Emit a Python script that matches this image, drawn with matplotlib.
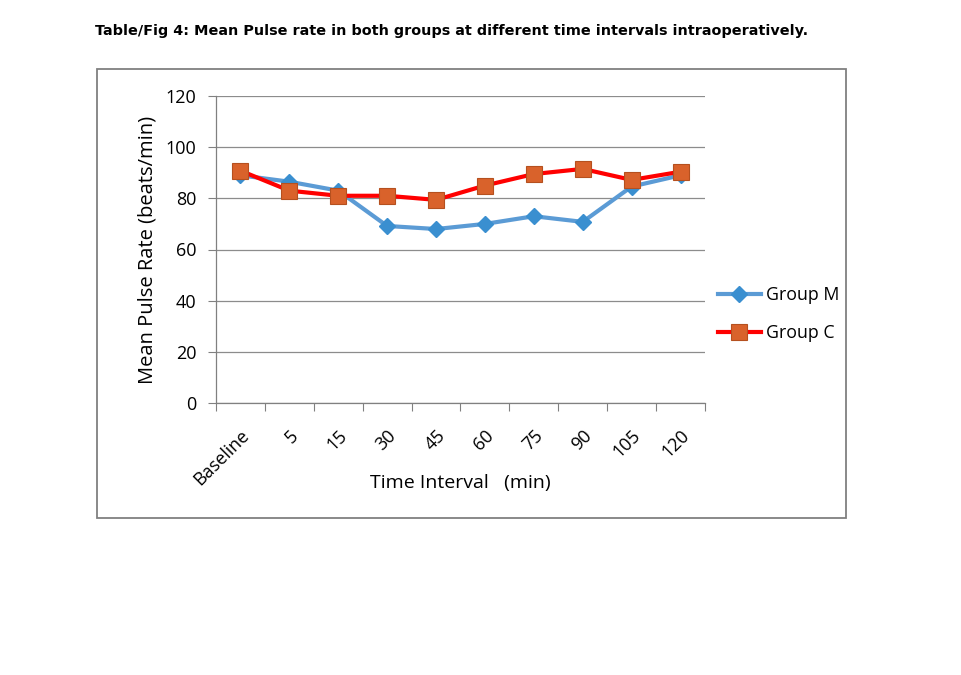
import matplotlib
matplotlib.use("Agg")
import matplotlib.pyplot as plt
from matplotlib.patches import Rectangle
from matplotlib.ticker import FixedLocator, NullFormatter

categories = ["Baseline", "5", "15", "30", "45", "60", "75", "90", "105", "120"]
group_m = [89, 86.5, 83, 69.2, 68, 70, 73, 70.8, 84.6, 89]
group_c = [90.8, 83, 81, 81, 79.4, 85, 89.5, 91.5, 87.2, 90.4]
y_ticks = [0, 20, 40, 60, 80, 100, 120]

W, H = 962, 675
fig = plt.figure(figsize=(W / 100, H / 100), dpi=100)
fig.patch.set_facecolor("white")

# outer chart box
fig.patches.append(Rectangle((97 / W, 1 - 518 / H), (846 - 97) / W, (518 - 69) / H,
                             transform=fig.transFigure, fill=False,
                             edgecolor="#808080", linewidth=1.3))

fig.text(95 / W, 1 - 31 / H,
         "Table/Fig 4: Mean Pulse rate in both groups at different time intervals intraoperatively.",
         fontsize=10.4, fontweight="heavy", family="DejaVu Sans", va="center", ha="left")

ax = fig.add_axes([216 / W, 1 - 403 / H, (705 - 216) / W, (403 - 96) / H])
x = list(range(len(categories)))

ax.plot(x, group_m, color="#5B9BD5", linewidth=3, marker="D", markersize=8,
        markerfacecolor="#3A8FD0", markeredgecolor="#3A8FD0", label="Group M", zorder=3)
ax.plot(x, group_c, color="#FF0000", linewidth=3, marker="s", markersize=11,
        markerfacecolor="#D9622B", markeredgecolor="#B5501F", markeredgewidth=0.8,
        label="Group C", zorder=4)

ax.set_xlim(-0.5, len(categories) - 0.5)
ax.set_ylim(0, 120)
ax.set_yticks(y_ticks)
ax.yaxis.grid(True, color="#8C8C8C", linewidth=0.9)
ax.set_axisbelow(True)

ax.xaxis.set_major_locator(FixedLocator([i - 0.5 for i in range(len(categories) + 1)]))
ax.xaxis.set_major_formatter(NullFormatter())
ax.xaxis.set_minor_locator(FixedLocator(x))
ax.set_xticklabels(categories, minor=True, rotation=45, ha="right", rotation_mode="anchor",
                   fontsize=13, family="Open Sans")
ax.tick_params(axis="x", which="minor", length=0, pad=17)
ax.tick_params(axis="x", which="major", length=6, color="#808080", direction="out")
ax.tick_params(axis="y", length=6, color="#808080", direction="out", labelsize=13, pad=8)
for lab in ax.get_yticklabels():
    lab.set_family("Open Sans")

for s in ["top", "right"]:
    ax.spines[s].set_visible(False)
for s in ["left", "bottom"]:
    ax.spines[s].set_color("#808080")
    ax.spines[s].set_linewidth(0.9)

ax.set_xlabel("Time Interval   (min)", fontsize=14, family="Open Sans", labelpad=-11)
ax.set_ylabel("Mean Pulse Rate (beats/min)", fontsize=14.5, family="Open Sans", labelpad=6)

leg = ax.legend(loc="center left", bbox_to_anchor=(1.0266, 0.29), frameon=False,
                prop={"family": "Open Sans", "size": 12.8}, borderaxespad=0, borderpad=0,
                handlelength=2.4, handletextpad=0.3, labelspacing=1.12)

fig.savefig("out.png", dpi=100)
